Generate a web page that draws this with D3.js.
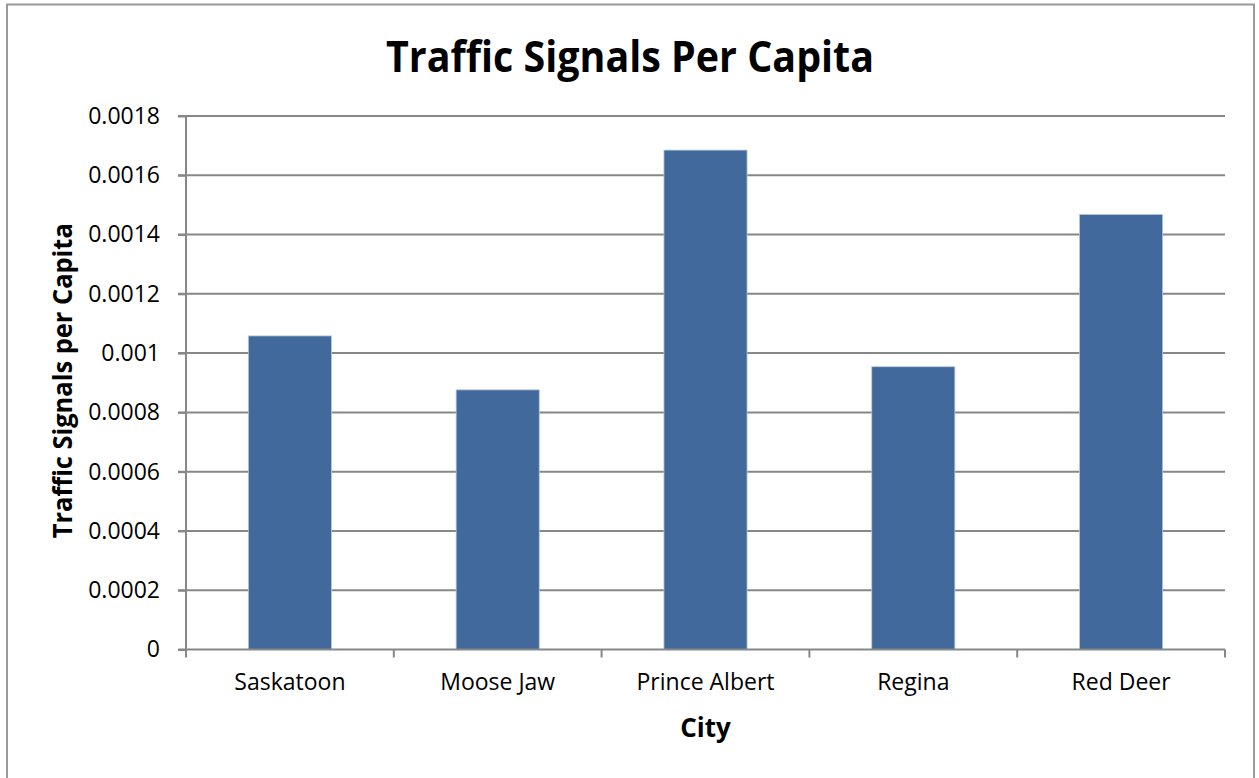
<!DOCTYPE html>
<html>
<head>
<meta charset="utf-8">
<script src="https://cdn.jsdelivr.net/npm/d3@7"></script>
<style>
	body { margin: 0; background: #fff; }
	svg { display: block; font-family: "Open Sans", "Noto Sans", sans-serif; }
</style>
</head>
<body>
<script>
// Data
var cities = ["Saskatoon", "Moose Jaw", "Prince Albert", "Regina", "Red Deer"];
var signalsPerCapita = [0.001058, 0.000876, 0.001685, 0.000954, 0.001468];
var yTicks = [0, 0.0002, 0.0004, 0.0006, 0.0008, 0.001, 0.0012, 0.0014, 0.0016, 0.0018];

var chartTitle = "Traffic Signals Per Capita";
var xTitle = "City";
var yTitle = "Traffic Signals per Capita";

// Define margins
var outer_width = 1259;
var outer_height = 778;
var margin = {top: 116, right: 34, bottom: 128.5, left: 186};
var plot_width = outer_width - margin.left - margin.right;
var plot_height = outer_height - margin.top - margin.bottom;

var svg = d3.select("body")
	.append("svg")
	.attr("width", outer_width)
	.attr("height", outer_height);

// outer chart border
svg.append("rect")
	.attr("x", 7)
	.attr("y", 4.5)
	.attr("width", 1247)
	.attr("height", 790)
	.attr("fill", "none")
	.attr("stroke", "#9a9a9a")
	.attr("stroke-width", 2);

var g = svg.append("g")
	.attr("transform", "translate(" + margin.left + "," + margin.top + ")");

// scales
var xScale = d3.scaleBand()
	.domain(cities)
	.range([0, plot_width])
	.paddingInner(0.6)
	.paddingOuter(0.3);

var yScale = d3.scaleLinear()
	.domain([0, 0.0018])
	.range([plot_height, 0]);

// gridlines
g.append("g")
	.attr("class", "grid")
	.selectAll("line")
	.data(yTicks.slice(1))
	.enter()
	.append("line")
	.attr("x1", -8)
	.attr("x2", plot_width)
	.attr("y1", function(d) { return yScale(d); })
	.attr("y2", function(d) { return yScale(d); })
	.attr("stroke", "#878787")
	.attr("stroke-width", 2);

// bars
g.selectAll("rect.bar")
	.data(signalsPerCapita)
	.enter()
	.append("rect")
	.attr("class", "bar")
	.attr("x", function(d, i) { return xScale(cities[i]); })
	.attr("y", function(d) { return yScale(d); })
	.attr("width", xScale.bandwidth())
	.attr("height", function(d) { return plot_height - yScale(d); })
	.attr("fill", "#41699b")
	.attr("stroke", "#b8c8dc")
	.attr("stroke-width", 0.8);

// Y axis
var yAxis = d3.axisLeft(yScale)
	.tickValues(yTicks)
	.tickSize(8)
	.tickPadding(18)
	.tickFormat(function(d) { return d3.format("")(+d.toFixed(4)); });

var yAxisG = g.append("g")
	.attr("class", "axis")
	.call(yAxis);

// X axis: ticks at category boundaries, labels at centres
var xAxisG = g.append("g")
	.attr("class", "axis")
	.attr("transform", "translate(0," + plot_height + ")")
	.call(d3.axisBottom(xScale).tickSize(0).tickPadding(24));

var step = xScale.step();
xAxisG.selectAll("line.boundary")
	.data(d3.range(cities.length + 1))
	.enter()
	.append("line")
	.attr("class", "boundary")
	.attr("x1", function(i) { return i * step; })
	.attr("x2", function(i) { return i * step; })
	.attr("y1", 0)
	.attr("y2", 8)
	.attr("stroke", "#878787")
	.attr("stroke-width", 2);

xAxisG.select(".domain").remove();
xAxisG.append("line")
	.attr("x1", -8)
	.attr("x2", plot_width)
	.attr("stroke", "#878787")
	.attr("stroke-width", 2);

svg.selectAll(".axis .domain").attr("stroke", "#878787").attr("stroke-width", 2);
svg.selectAll(".axis .tick line").attr("stroke", "#878787").attr("stroke-width", 2);
svg.selectAll(".axis text")
	.attr("fill", "#000")
	.style("font-size", "23px")
	.style("font-family", "'Open Sans', sans-serif");
yAxisG.select(".domain").attr("d", "M0,0V" + plot_height);

// Title
svg.append("text")
	.attr("x", 630)
	.attr("y", 72)
	.attr("text-anchor", "middle")
	.attr("textLength", 488)
	.attr("lengthAdjust", "spacingAndGlyphs")
	.style("font-size", "43px")
	.style("font-weight", "bold")
	.text(chartTitle);

// X axis title
svg.append("text")
	.attr("x", margin.left + plot_width / 2)
	.attr("y", 737)
	.attr("text-anchor", "middle")
	.style("font-size", "26px")
	.style("font-weight", "bold")
	.text(xTitle);

// Y axis title
svg.append("text")
	.attr("transform", "translate(72," + (margin.top + plot_height / 2 - 2) + ") rotate(-90)")
	.attr("text-anchor", "middle")
	.attr("textLength", 315)
	.attr("lengthAdjust", "spacingAndGlyphs")
	.style("font-size", "27px")
	.style("font-weight", "bold")
	.text(yTitle);
</script>
</body>
</html>
